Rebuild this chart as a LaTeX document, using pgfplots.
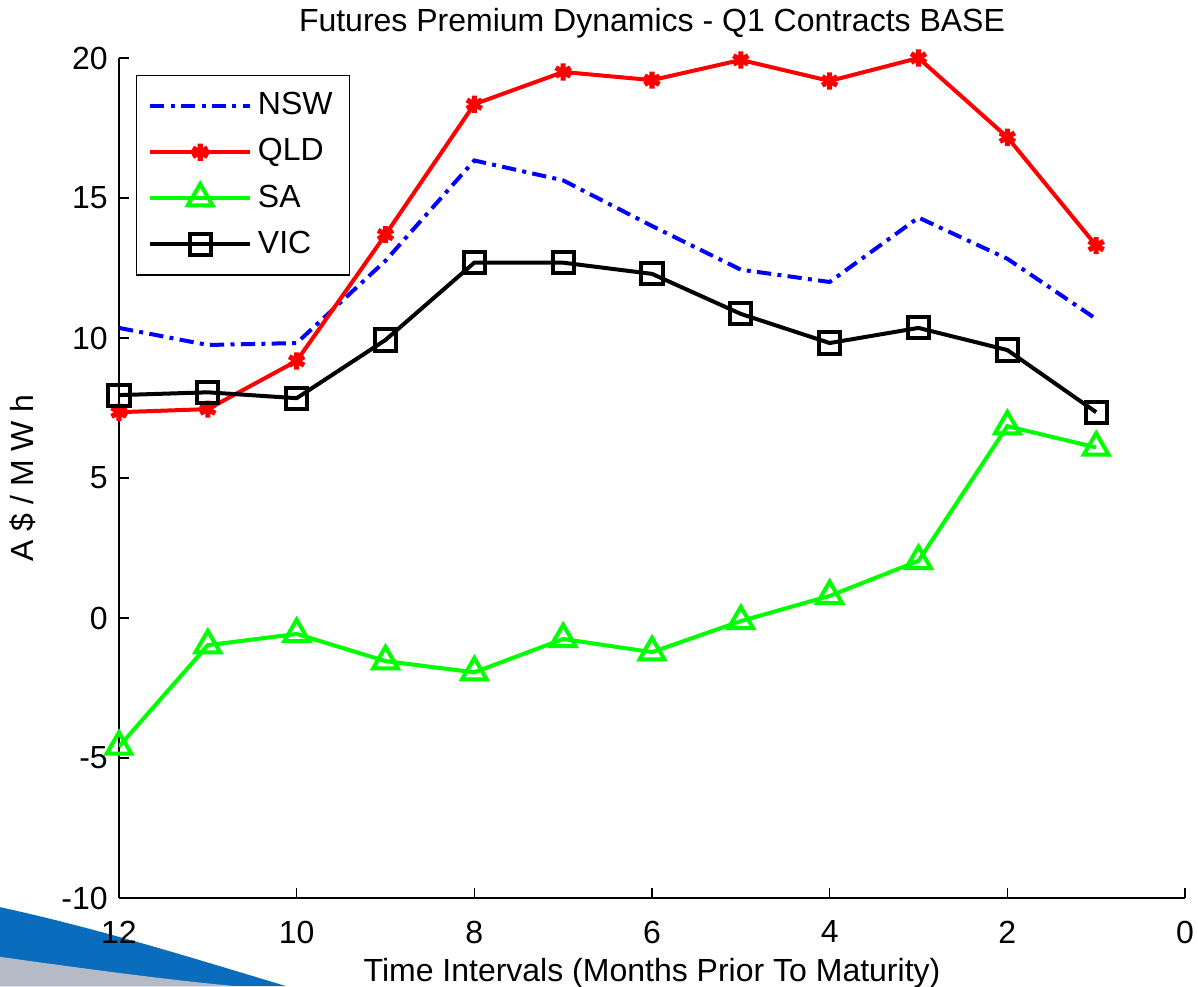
\documentclass[border=0pt]{standalone}
\usepackage{pgfplots}
\pgfplotsset{compat=1.18}
\usepackage{fontspec}
\setmainfont{Liberation Sans}
\begin{document}
\fontsize{11.2}{13}\selectfont
\begin{tikzpicture}
\definecolor{swooshblue}{RGB}{10,108,188}
\definecolor{swooshgray}{RGB}{180,186,198}
\path[use as bounding box] (0,0) rectangle (419.3pt,345.1pt);
% slide decoration, bottom left
\fill[swooshblue] (0,27.6pt) .. controls (35pt,20pt) and (70pt,9pt) .. (100pt,0) -- (0,0) -- cycle;
\fill[swooshgray] (0,10.2pt) .. controls (30pt,6pt) and (60pt,2pt) .. (82pt,0) -- (0,0) -- cycle;
\begin{axis}[
    at={(41.65pt,30.8pt)}, anchor=south west,
    scale only axis,
    width=373.1pt, height=294pt,
    x dir=reverse,
    xmin=0, xmax=12, ymin=-10, ymax=20,
    xtick={0,2,...,12}, ytick={-10,-5,...,20},
    axis x line*=bottom, axis y line*=left,
    axis line style={line width=0.5pt},
    tick align=inside,
    major tick length=3.5pt,
    tick style={black, line width=0.5pt},
    /pgf/number format/assume math mode=true,
    ticklabel style={font=\fontsize{11.2}{13}\selectfont},
    xticklabel style={yshift=-4pt},
    title={Futures Premium Dynamics - Q1 Contracts BASE},
    title style={yshift=-3pt},
    xlabel={Time Intervals (Months Prior To Maturity)},
    ylabel={A \$ / M W h},
    xlabel style={yshift=2.5pt},
    ylabel style={yshift=1.5pt},
    legend cell align=left,
    legend style={at={(0.016,0.98)}, anchor=north west, draw=black,
        line width=0.5pt, inner sep=4pt, row sep=2.6pt,
        font=\fontsize{11.2}{13}\selectfont},
    legend image code/.code={\draw[mark repeat=2,mark phase=2,#1] plot coordinates {(0pt,0pt) (17.5pt,0pt) (35pt,0pt)};},
]
\addplot[blue, line width=1.4pt, dash pattern=on 5pt off 2.2pt on 1.4pt off 2.2pt] coordinates {
(12,10.36) (11,9.75) (10,9.82) (9,12.76) (8,16.34) (7,15.63) (6,14.0) (5,12.44) (4,12.0) (3,14.3) (2,12.83) (1,10.68)
};
\addlegendentry{NSW}
\addplot[red, line width=1.4pt, mark=asterisk, mark size=3pt, mark options={solid, line width=1.8pt}] coordinates {
(12,7.35) (11,7.46) (10,9.18) (9,13.69) (8,18.35) (7,19.5) (6,19.21) (5,19.93) (4,19.18) (3,20.0) (2,17.17) (1,13.3)
};
\addlegendentry{QLD}
\addplot[green, line width=1.4pt, mark=triangle, mark size=5pt, mark options={solid, line width=1.4pt}] coordinates {
(12,-4.59) (11,-0.97) (10,-0.57) (9,-1.54) (8,-1.94) (7,-0.75) (6,-1.22) (5,-0.11) (4,0.79) (3,2.04) (2,6.85) (1,6.09)
};
\addlegendentry{SA}
\addplot[black, line width=1.4pt, mark=square, mark size=3.7pt, mark options={solid, line width=1.4pt}] coordinates {
(12,7.96) (11,8.06) (10,7.85) (9,9.93) (8,12.69) (7,12.69) (6,12.29) (5,10.86) (4,9.82) (3,10.36) (2,9.57) (1,7.35)
};
\addlegendentry{VIC}
\end{axis}
\end{tikzpicture}
\end{document}
